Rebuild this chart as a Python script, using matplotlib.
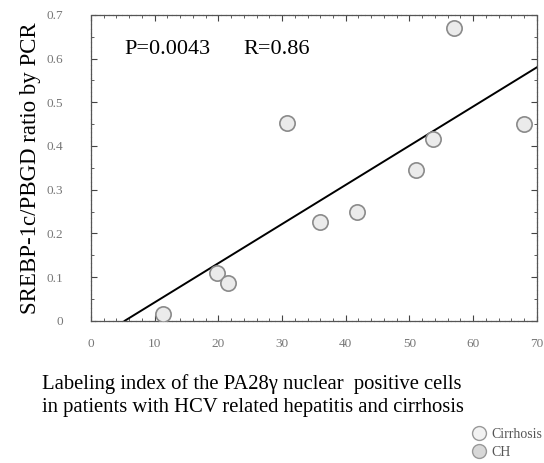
import matplotlib
matplotlib.use("Agg")
import matplotlib.pyplot as plt
from matplotlib.lines import Line2D
from matplotlib.ticker import MultipleLocator

plt.rcParams['font.family'] = ['Liberation Serif', 'DejaVu Serif']

# valores
labeling_index = [11.3, 19.8, 21.5, 30.8, 35.9, 41.8, 51.0, 53.7, 57.0, 68.0]
srebp_ratio = [0.015, 0.11, 0.087, 0.453, 0.225, 0.248, 0.344, 0.417, 0.670, 0.451]

# reta de regressao (extremos)
fit_x = [5.3, 70.0]
fit_y = [0.0, 0.58]

p_text = "P=0.0043"
r_text = "R=0.86"
legend_labels = ["Cirrhosis", "CH"]

fig = plt.figure(figsize=(5.44, 4.63), dpi=100)
ax = fig.add_axes([0.167, 0.307, 0.820, 0.661])

ax.plot(fit_x, fit_y, color='black', linewidth=1.4, zorder=2)
ax.plot(labeling_index, srebp_ratio, 'o', markersize=11, markerfacecolor='#ebebeb',
        markeredgecolor='#8a8a8a', markeredgewidth=1.2, linestyle='none', zorder=3)

ax.set_xlim(0, 70)
ax.set_ylim(0, 0.7)
ax.xaxis.set_major_locator(MultipleLocator(10))
ax.xaxis.set_minor_locator(MultipleLocator(2))
ax.yaxis.set_major_locator(MultipleLocator(0.1))
ax.yaxis.set_minor_locator(MultipleLocator(0.05))
ax.tick_params(which='both', direction='in', top=True, right=True, color='#444444')
ax.tick_params(which='major', length=4, width=0.8)
ax.tick_params(which='minor', length=2, width=0.6)
ax.tick_params(axis='x', labelsize=9.5, labelcolor='#777777', pad=12)
ax.tick_params(axis='y', labelsize=9.5, labelcolor='#777777', pad=20)
ax.set_yticks([0, 0.1, 0.2, 0.3, 0.4, 0.5, 0.6, 0.7])
ax.set_yticklabels(['0', '0.1', '0.2', '0.3', '0.4', '0.5', '0.6', '0.7'])

for s in ax.spines.values():
    s.set_color('#555555')
    s.set_linewidth(0.9)
    s.set_linestyle((0, (3, 0.6)))

ax.text(5.3, 0.62, p_text, fontsize=16, va='center')
ax.text(24.0, 0.62, r_text, fontsize=16, va='center')

ax.set_ylabel("SREBP-1c/PBGD ratio by PCR", fontsize=16.5, labelpad=4)
fig.text(0.077, 0.146, "Labeling index of the PA28\u03b3 nuclear  positive cells\n"
         "in patients with HCV related hepatitis and cirrhosis",
         fontsize=14.9, ha='left', va='center', linespacing=1.3)

handles = [
    Line2D([], [], marker='o', linestyle='none', markersize=10,
           markerfacecolor='#f2f2f2', markeredgecolor='#999999', markeredgewidth=1.0),
    Line2D([], [], marker='o', linestyle='none', markersize=10,
           markerfacecolor='#d8d8d8', markeredgecolor='#999999', markeredgewidth=1.0),
]
leg = fig.legend(handles, legend_labels, loc='lower right', bbox_to_anchor=(1.02, -0.018),
                 frameon=False, fontsize=10, handletextpad=0.3, labelspacing=0.35,
                 handlelength=1.2)
for t in leg.get_texts():
    t.set_color('#555555')

fig.savefig("out.png", dpi=100)
